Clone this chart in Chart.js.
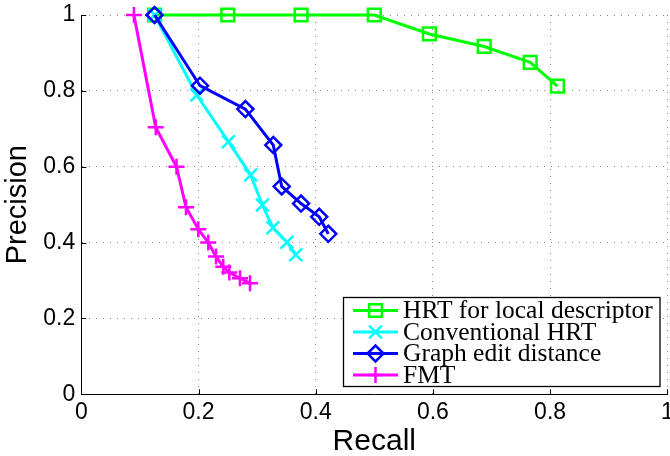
<!DOCTYPE html>
<html>
<head>
<meta charset="utf-8">
<script src="https://cdn.jsdelivr.net/npm/chart.js@4/dist/chart.umd.min.js"></script>
<style>
body { margin: 0; background: #fff; }
</style>
</head>
<body>
<canvas id="pr" width="670" height="456"></canvas>
<script>
// axis ticks
const tickValues = [0, 0.2, 0.4, 0.6, 0.8, 1];
const tickLabels = ['0', '0.2', '0.4', '0.6', '0.8', '1'];

// HRT for local descriptor
const hrtRecall = [0.125, 0.25, 0.375, 0.5, 0.594, 0.6875, 0.766, 0.8125];
const hrtPrecision = [1, 1, 1, 1, 0.95, 0.917, 0.875, 0.8125];

// Conventional HRT
const convRecall = [0.125, 0.197, 0.251, 0.289, 0.309, 0.327, 0.351, 0.366];
const convPrecision = [1, 0.789, 0.666, 0.578, 0.499, 0.439, 0.401, 0.368];

// Graph edit distance
const gedRecall = [0.125, 0.2025, 0.28, 0.3276, 0.342, 0.375, 0.406, 0.4215];
const gedPrecision = [1, 0.8136, 0.752, 0.657, 0.548, 0.503, 0.468, 0.423];

// FMT
const fmtRecall = [0.0898, 0.127, 0.1625, 0.1787, 0.1997, 0.2167, 0.2299, 0.2423, 0.2526, 0.2708, 0.2879];
const fmtPrecision = [1, 0.704, 0.6, 0.493, 0.435, 0.4, 0.363, 0.336, 0.321, 0.306, 0.293];

function toPoints(xs, ys) {
    return xs.map((x, i) => ({x: x, y: ys[i]}));
}

function makeSet(label, xs, ys, color, style, radius, order) {
    return {
        label: label,
        data: toPoints(xs, ys),
        borderColor: color,
        backgroundColor: 'rgba(0,0,0,0)',
        borderWidth: 3,
        pointStyle: style,
        pointRadius: radius,
        pointBorderWidth: 2.5,
        pointBorderColor: color,
        pointBackgroundColor: 'rgba(0,0,0,0)',
        tension: 0,
        clip: false,
        order: order
    };
}

// keep the plot box fixed, no extra room for the end labels
function noPadding(s) {
    s.paddingLeft = 0; s.paddingRight = 0; s.paddingTop = 0; s.paddingBottom = 0;
    s.getPadding = () => ({left: 0, top: 0, right: 0, bottom: 0});
}

function tickLabel(v) {
    const i = tickValues.indexOf(Math.round(v * 10) / 10);
    return i >= 0 ? tickLabels[i] : '';
}

// MATLAB-like inward ticks and the boxed legend in the lower right
const boxLegend = {
    id: 'boxLegend',
    afterDraw(chart) {
        const ctx = chart.ctx;
        const xs = chart.scales.x, ys = chart.scales.y;
        const area = chart.chartArea;
        ctx.save();
        ctx.strokeStyle = '#000';
        ctx.lineWidth = 1;
        tickValues.forEach(v => {
            const px = Math.round(xs.getPixelForValue(v)) + 0.5;
            ctx.beginPath();
            ctx.moveTo(px, area.bottom);
            ctx.lineTo(px, area.bottom - 5);
            ctx.stroke();
            const py = Math.round(ys.getPixelForValue(v)) + 0.5;
            ctx.beginPath();
            ctx.moveTo(area.left, py);
            ctx.lineTo(area.left + 5, py);
            ctx.stroke();
        });

        // legend frame
        ctx.fillStyle = '#fff';
        ctx.fillRect(343.5, 297.5, 316.5, 89);
        ctx.lineWidth = 1.3;
        ctx.strokeRect(343.5, 297.5, 316.5, 89);

        ctx.font = '25.5px "Liberation Serif"';
        ctx.textBaseline = 'middle';
        chart.data.datasets.forEach((ds, i) => {
            const y = 310.5 + i * 21.5;
            ctx.strokeStyle = ds.borderColor;
            ctx.lineWidth = 3;
            ctx.beginPath();
            ctx.moveTo(353, y);
            ctx.lineTo(398, y);
            ctx.stroke();
            ctx.lineWidth = ds.pointBorderWidth;
            ctx.fillStyle = 'rgba(0,0,0,0)';
            Chart.helpers.drawPoint(ctx, {
                pointStyle: ds.pointStyle,
                radius: ds.pointRadius,
                rotation: 0,
                borderWidth: ds.pointBorderWidth
            }, 375.5, y);
            ctx.fillStyle = '#000';
            ctx.fillText(ds.label, 403, y + 1);
        });
        ctx.restore();
    }
};

const axisFont = {family: '"Liberation Sans", Arial, sans-serif', size: 23};

new Chart(document.getElementById('pr'), {
    type: 'line',
    data: {
        datasets: [
            makeSet('HRT for local descriptor', hrtRecall, hrtPrecision, '#00ff00', 'rect', 9, 4),
            makeSet('Conventional HRT', convRecall, convPrecision, '#00ffff', 'crossRot', 9, 3),
            makeSet('Graph edit distance', gedRecall, gedPrecision, '#0000ff', 'rectRot', 8, 2),
            makeSet('FMT', fmtRecall, fmtPrecision, '#ff00ff', 'cross', 8, 1)
        ]
    },
    options: {
        responsive: false,
        animation: false,
        devicePixelRatio: 1,
        layout: {autoPadding: false, padding: {left: 0, right: 2.7, top: 15, bottom: 0}},
        plugins: {
            legend: {display: false},
            tooltip: {enabled: false}
        },
        scales: {
            x: {
                type: 'linear',
                min: 0,
                max: 1,
                afterBuildTicks: s => { s.ticks = tickValues.map(v => ({value: v})); },
                afterFit: s => { s.height = 61.7; noPadding(s); },
                ticks: {color: '#000', font: axisFont, padding: 5, maxRotation: 0, callback: tickLabel},
                grid: {color: '#888', lineWidth: 1, drawTicks: false},
                border: {display: true, color: '#000', width: 1, dash: [1, 6]},
                title: {
                    display: true,
                    text: 'Recall',
                    color: '#000',
                    font: {family: '"Liberation Sans", Arial, sans-serif', size: 30, lineHeight: 1},
                    padding: {top: 0, bottom: -1}
                }
            },
            y: {
                type: 'linear',
                min: 0,
                max: 1,
                afterBuildTicks: s => { s.ticks = tickValues.map(v => ({value: v})); },
                afterFit: s => { s.width = 81.3; noPadding(s); },
                ticks: {color: '#000', font: axisFont, padding: 6, callback: tickLabel},
                grid: {color: '#888', lineWidth: 1, drawTicks: false},
                border: {display: true, color: '#000', width: 1, dash: [1, 6]},
                title: {
                    display: true,
                    text: 'Precision',
                    color: '#000',
                    font: {family: '"Liberation Sans", Arial, sans-serif', size: 29, lineHeight: 1},
                    padding: {top: 3, bottom: 0}
                }
            }
        }
    },
    plugins: [boxLegend]
});
</script>
</body>
</html>
